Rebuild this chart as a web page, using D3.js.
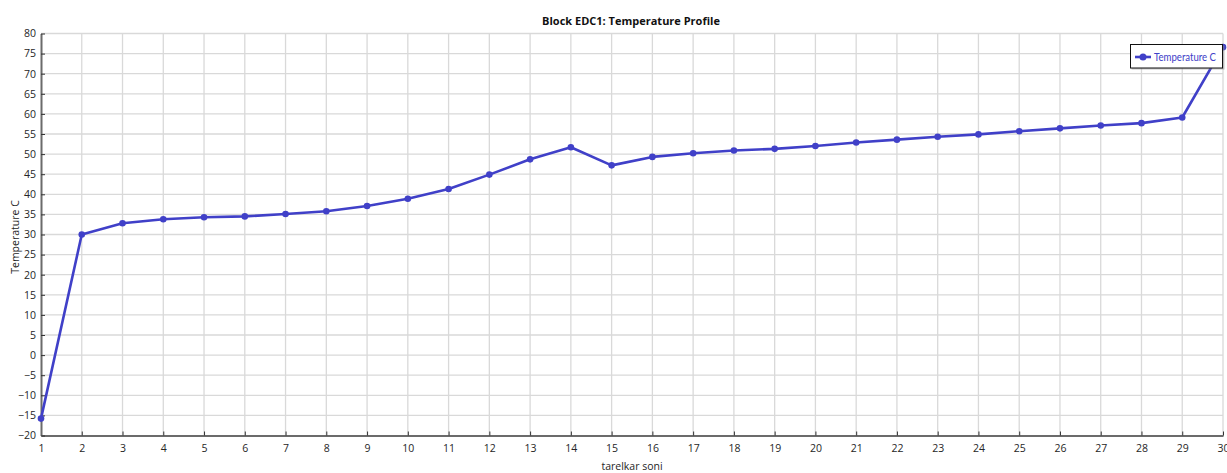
<!DOCTYPE html>
<html><head><meta charset="utf-8">
<script src="https://cdn.jsdelivr.net/npm/d3@7"></script>
<style>
body{margin:0;background:#fff;}
text{font-family:"Open Sans","Noto Sans",sans-serif;}
</style></head>
<body>
<svg id="chart" width="1227" height="473"></svg>
<script>
const categories = [1,2,3,4,5,6,7,8,9,10,11,12,13,14,15,16,17,18,19,20,21,22,23,24,25,26,27,28,29,30];
const temperature = [-15.8,30.0,32.8,33.8,34.3,34.5,35.1,35.8,37.1,38.9,41.3,44.9,48.7,51.7,47.2,49.3,50.2,50.9,51.3,52.0,52.9,53.6,54.3,54.9,55.7,56.4,57.1,57.7,59.1,76.6];
const yTicks = [80,75,70,65,60,55,50,45,40,35,30,25,20,15,10,5,0,-5,-10,-15,-20];
const seriesName = "Temperature C";
const title = "Block EDC1: Temperature Profile";
const xLabel = "tarelkar soni";
const yLabel = "Temperature C";

(function(){
const svg = d3.select("#chart");
const mLeft = 41, mRight = 1223, mTop = 33.5, mBottom = 435.5;
const x = d3.scaleLinear().domain([1,30]).range([mLeft,mRight]);
const y = d3.scaleLinear().domain([-20,80]).range([mBottom,mTop]);
const color = "#4040c8";

// grid
const g = svg.append("g");
g.selectAll(".vg").data(categories.slice(1)).enter().append("line")
  .attr("x1",d=>x(d)).attr("x2",d=>x(d)).attr("y1",mTop).attr("y2",mBottom)
  .attr("stroke","#d9d9d9").attr("stroke-width",1.3);
g.selectAll(".hg").data(yTicks.filter(d=>d>-20)).enter().append("line")
  .attr("x1",mLeft).attr("x2",mRight).attr("y1",d=>y(d)).attr("y2",d=>y(d))
  .attr("stroke","#d9d9d9").attr("stroke-width",1.3);

// axes
const xAxis = d3.axisBottom(x).tickValues(categories).tickFormat(d3.format("d")).tickSizeInner(-4).tickSizeOuter(0).tickPadding(9);
const yAxis = d3.axisLeft(y).tickValues(yTicks).tickFormat(d3.format("d")).tickSizeInner(-4).tickSizeOuter(0).tickPadding(5);
const xa = svg.append("g").attr("transform",`translate(0,${mBottom})`).call(xAxis);
const ya = svg.append("g").attr("transform",`translate(${mLeft},0)`).call(yAxis);
[xa,ya].forEach(a=>{
  a.select(".domain").attr("stroke","#6b6b6b").attr("stroke-width",2);
  a.selectAll(".tick line").attr("stroke","#333").attr("stroke-width",1);
  a.selectAll(".tick text").attr("fill","#262626").style("font-size","10.5px").style("font-family","'Open Sans','Noto Sans',sans-serif");
});

// line
const line = d3.line().x((d,i)=>x(categories[i])).y(d=>y(d));
svg.append("path").datum(temperature).attr("d",line)
  .attr("fill","none").attr("stroke",color).attr("stroke-width",2.6).attr("stroke-linejoin","round");
svg.selectAll(".pt").data(temperature).enter().append("circle")
  .attr("cx",(d,i)=>x(categories[i])).attr("cy",d=>y(d)).attr("r",3.3).attr("fill",color);

// title & labels
svg.append("text").attr("x",631).attr("y",25).attr("text-anchor","middle")
  .style("font-size","11px").style("font-weight","bold").attr("fill","#111").text(title);
svg.append("text").attr("x",632).attr("y",470).attr("text-anchor","middle")
  .style("font-size","10.5px").attr("fill","#262626").text(xLabel);
svg.append("text").attr("transform","translate(19,237) rotate(-90)").attr("text-anchor","middle")
  .style("font-size","10.5px").attr("fill","#262626").text(yLabel);

// legend
const lg = svg.append("g");
lg.append("rect").attr("x",1131.5).attr("y",45.5).attr("width",93).attr("height",24).attr("fill","#888").attr("opacity",0.5);
lg.append("rect").attr("x",1130.5).attr("y",44.5).attr("width",92).attr("height",23.5).attr("fill","#fff").attr("stroke","#111").attr("stroke-width",1);
lg.append("line").attr("x1",1135).attr("x2",1151).attr("y1",57).attr("y2",57).attr("stroke",color).attr("stroke-width",2.6);
lg.append("circle").attr("cx",1143).attr("cy",57).attr("r",3.5).attr("fill",color);
lg.append("text").attr("x",1154).attr("y",61).style("font-size","10.5px").style("font-family","Lato,sans-serif")
  .attr("textLength",62).attr("lengthAdjust","spacingAndGlyphs").attr("fill",color).text(seriesName);
})();
</script>
</body></html>
